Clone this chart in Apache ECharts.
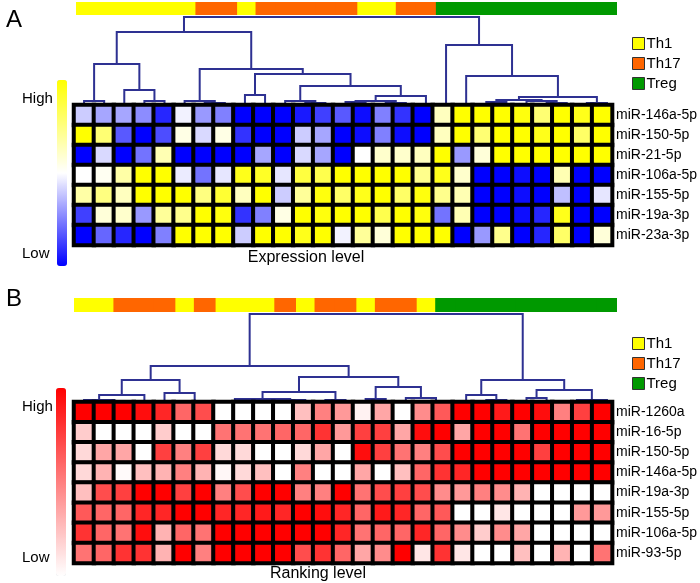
<!DOCTYPE html>
<html>
<head>
<meta charset="utf-8">
<script src="https://cdn.jsdelivr.net/npm/echarts@6/dist/echarts.min.js"></script>
<style>
html, body { margin: 0; padding: 0; background: #fff; }
#chart { width: 700px; height: 583px; }
</style>
</head>
<body>
<div id="chart"></div>
<script>
var cols = [];
for (var i = 0; i < 27; i++) cols.push('S' + (i + 1));

var rowsA = ['miR-146a-5p', 'miR-150-5p', 'miR-21-5p', 'miR-106a-5p', 'miR-155-5p', 'miR-19a-3p', 'miR-23a-3p'];
var rowsB = ['miR-1260a', 'miR-16-5p', 'miR-150-5p', 'miR-146a-5p', 'miR-19a-3p', 'miR-155-5p', 'miR-106a-5p', 'miR-93-5p'];

var groupNames = ['Th1', 'Th17', 'Treg'];
var groupColors = ['#ffff00', '#ff6600', '#009900'];

// cell type of each column (0 Th1, 1 Th17, 2 Treg)
var groupsA = [0,0,0,0,0,0, 1,1, 0, 1,1,1,1,1, 0,0, 1,1, 2,2,2,2,2,2,2,2,2];
var groupsB = [0,0, 1,1,1, 0, 1, 0,0,0, 1, 0, 1,1, 0, 1,1, 0, 2,2,2,2,2,2,2,2,2];

// expression level, -1 low .. 1 high
var exprA = [
  [-0.2,-0.35,-0.35,-0.45,-0.85,-0.05,-0.4,-0.5,-1,-1,-1,-0.9,-0.75,-0.65,-0.95,-0.5,-0.8,-1,0.25,1,1,1,0.95,0.55,1,0.9,1],
  [1,0.55,-0.65,-1,-0.7,0.1,-0.15,0.1,-0.8,-1,-1,-0.2,-0.35,-1,-0.95,-0.5,-0.95,-1,0.25,1,0.55,1,1,0.9,1,0.6,1],
  [-1,-0.15,-1,-0.55,0.3,-1,-1,-1,-1,-0.35,-1,-0.15,-0.35,-1,0,0.2,0.2,0.25,1,-0.4,0.15,1,1,1,1,1,1],
  [0,0.05,0.35,1,1,-0.08,-0.55,-0.1,0.9,0.85,-0.1,0.75,0.7,1,1,1,1,0.45,0.9,0.2,-1,-1,-0.95,-1,0.3,-1,-1],
  [0.35,0.5,0.25,1,1,1,0.5,0.8,0.25,1,-0.2,0.4,0.95,0.6,0.9,1,0.6,0.95,0.45,0.3,-1,-1,-0.95,-1,-0.25,-1,-0.1],
  [-0.75,0.15,0.2,-0.4,0.4,0.45,1,0.95,-0.8,-0.5,0.1,1,0.95,1,1,0.7,1,0.95,-0.55,0.3,-1,-1,-0.95,-0.85,0.9,-1,-1],
  [-1,-0.6,-0.85,-1,-0.5,1,1,1,-0.2,1,1,0.9,1,-0.05,0.4,0.15,1,1,1,-1,-0.4,0.45,-1,-0.85,0.6,-1,0.15]
];

// ranking level, 0 low .. 1 high
var rankB = [
  [1,1,1,0.95,0.85,0.6,0.7,0,0,0,0,0.25,0.5,0.4,0.05,0.35,0,0.45,0.65,1,1,0.9,1,0.95,0.5,0.75,1],
  [0.2,0,0,0,0.2,0,0,0.55,0.55,0.55,0.6,0.6,0.8,0.4,0.75,0.75,0.35,0.95,1,0.35,1,1,0.55,1,1,1,1],
  [0.15,0.35,0.35,0,0.75,0.5,0.75,0.15,0.15,0,0,0.15,0.35,0,0.95,0.75,0.55,0.5,0.7,1,1,1,1,0.75,1,1,1],
  [0.15,0.3,0.02,0.25,0.3,0.5,0.3,0.03,0.15,0.25,0,0.5,0,0,0.35,0,0.25,0.6,0.8,0.85,1,1,1,1,1,1,1],
  [0.25,0.7,0.75,1,1,0.75,1,0.5,0.7,1,1,0.5,0.5,1,0.55,0.7,0.75,0.7,0.45,0.4,0.5,0.45,0.3,0,0,0,0],
  [0.65,0.6,0.6,0.85,0.85,1,1,0.85,0.85,0.9,0.85,1,0.95,0.85,0.6,0.9,0.85,0.6,0.65,0,0,0.1,0,0,0,0.4,0.4],
  [0.8,0.6,0.55,0.95,0.3,0.6,0.55,1,1,1,1,1,1,0.85,0.55,0.6,0.6,0.85,0.6,0.45,0.2,0.45,0.35,0,0,0,0],
  [0.55,0.6,0.8,0.8,0.3,1,0.5,1,1,1,1,0.7,0.8,0.6,0.35,0.45,1,0.1,0.8,0.1,0,0,0.25,0,0.3,0,0.55]
];

// linkage: [left node, right node, height]; leaves are 0..26, merges numbered from 27
var linkA = [
  [0,1,4],[3,4,4],[2,28,15],[27,29,41],
  [6,7,2],[5,31,4],[8,9,10],[11,12,2],[10,34,4],
  [13,14,3],[15,16,2],[36,37,4],[38,17,9],[35,39,19],[33,40,31],[32,41,36],[30,42,73],
  [20,21,3],[23,24,2],[22,45,4],[44,46,5],[25,26,2],[47,48,8],[19,49,29],[18,50,60],
  [43,51,88]
];
var linkB = [
  [1,2,1],[0,27,2],[28,3,7],[5,6,1],[4,30,9],[29,31,22],
  [7,8,1],[9,10,1],[34,11,2],[33,35,3],[12,13,2],[36,37,10],
  [14,15,3],[17,18,1],[16,40,4],[39,41,15],[38,42,25],[32,43,36],
  [20,21,2],[19,45,7],[22,23,4],[24,25,1],[48,26,2],[47,49,12],[46,50,22],
  [44,51,88]
];

function dendroLines(link, n) {
  var xs = [], hs = [];
  for (var i = 0; i < n; i++) { xs.push(i); hs.push(0); }
  var out = [];
  link.forEach(function (m) {
    var a = m[0], b = m[1], h = m[2];
    out.push({ coords: [[xs[a], hs[a]], [xs[a], h], [xs[b], h], [xs[b], hs[b]]] });
    xs.push((xs[a] + xs[b]) / 2);
    hs.push(h);
  });
  return out;
}

function heatData(rows) {
  var d = [];
  rows.forEach(function (r, y) {
    r.forEach(function (v, x) { d.push([x, y, v]); });
  });
  return d;
}

// slightly wider than the band so neighbouring blocks leave no seam
function groupBars(groups, xi) {
  return groupNames.map(function (g, k) {
    return {
      name: g, type: 'bar', xAxisIndex: xi, yAxisIndex: xi,
      barWidth: '108%', barGap: '-100%', silent: true,
      itemStyle: { color: groupColors[k] },
      data: groups.map(function (v) { return v === k ? 1 : '-'; })
    };
  });
}

var font = 'Arial, "Liberation Sans", sans-serif';
var L = 74, W = 543;

function hidden(type, extra) {
  var ax = { type: type, show: false };
  for (var k in extra) ax[k] = extra[k];
  return ax;
}

var chart = echarts.init(document.getElementById('chart'));

var dendroStyle = { color: '#2e3192', width: 2, opacity: 1 };

function rowAxis(gi, rows) {
  return {
    type: 'category', gridIndex: gi, data: rows, inverse: true, position: 'right',
    axisLine: { show: false }, axisTick: { show: false },
    axisLabel: { fontSize: 14, color: '#000', margin: 4, fontFamily: font }
  };
}

function groupLegend(top) {
  return {
    left: 627, top: top, orient: 'vertical', itemWidth: 12, itemHeight: 12, itemGap: 5,
    icon: 'rect', data: groupNames, selectedMode: false,
    itemStyle: { borderColor: '#333', borderWidth: 1 },
    textStyle: { fontSize: 15, color: '#000', padding: [0, 0, 0, -3] }
  };
}

var option = {
  animation: false,
  textStyle: { fontFamily: font },
  grid: [
    { left: L + 2, top: 2, width: W - 2, height: 13 },
    { left: L, top: 17, width: W, height: 88 },
    { left: L, top: 105, width: W, height: 140 },
    { left: L, top: 298, width: W, height: 14 },
    { left: L, top: 314, width: W, height: 88 },
    { left: L, top: 402, width: W, height: 161 }
  ],
  xAxis: [
    hidden('category', { gridIndex: 0, data: cols }),
    hidden('value', { gridIndex: 1, min: -0.5, max: 26.5 }),
    hidden('category', { gridIndex: 2, data: cols }),
    hidden('category', { gridIndex: 3, data: cols }),
    hidden('value', { gridIndex: 4, min: -0.5, max: 26.5 }),
    hidden('category', { gridIndex: 5, data: cols })
  ],
  yAxis: [
    hidden('value', { gridIndex: 0, min: 0, max: 1 }),
    hidden('value', { gridIndex: 1, min: 0, max: 88 }),
    rowAxis(2, rowsA),
    hidden('value', { gridIndex: 3, min: 0, max: 1 }),
    hidden('value', { gridIndex: 4, min: 0, max: 88 }),
    rowAxis(5, rowsB)
  ],
  visualMap: [
    {
      type: 'continuous', min: -1, max: 1, seriesIndex: 4, calculable: false,
      left: 57, top: 80, itemWidth: 10, itemHeight: 186, padding: 0,
      inRange: { color: ['#0000ff', '#ffffff', '#ffff00'] }
    },
    {
      type: 'continuous', min: 0, max: 1, seriesIndex: 9, calculable: false,
      left: 56, top: 388, itemWidth: 10, itemHeight: 188, padding: 0,
      inRange: { color: ['#ffffff', '#ff0000'] }
    }
  ],
  legend: [groupLegend(31), groupLegend(331)],
  graphic: [
    { type: 'text', left: 6, top: 8, style: { text: 'A', font: '24px ' + font, fill: '#000' } },
    { type: 'text', left: 6, top: 287, style: { text: 'B', font: '24px ' + font, fill: '#000' } },
    { type: 'text', left: 22, top: 91, style: { text: 'High', font: '15px ' + font, fill: '#000' } },
    { type: 'text', left: 22, top: 246, style: { text: 'Low', font: '15px ' + font, fill: '#000' } },
    { type: 'text', left: 22, top: 399, style: { text: 'High', font: '15px ' + font, fill: '#000' } },
    { type: 'text', left: 22, top: 550, style: { text: 'Low', font: '15px ' + font, fill: '#000' } },
    { type: 'text', x: 306, y: 250, style: { text: 'Expression level', font: '16px ' + font, fill: '#000', align: 'center' } },
    { type: 'text', x: 318, y: 566, style: { text: 'Ranking level', font: '16px ' + font, fill: '#000', align: 'center' } }
  ],
  series: []
};

option.series = option.series.concat(groupBars(groupsA, 0));
option.series.push({
  type: 'lines', coordinateSystem: 'cartesian2d', xAxisIndex: 1, yAxisIndex: 1,
  polyline: true, silent: true, lineStyle: dendroStyle, data: dendroLines(linkA, 27)
});
option.series.push({
  type: 'heatmap', xAxisIndex: 2, yAxisIndex: 2, data: heatData(exprA),
  itemStyle: { borderColor: '#000', borderWidth: 4 }
});
option.series = option.series.concat(groupBars(groupsB, 3));
option.series.push({
  type: 'lines', coordinateSystem: 'cartesian2d', xAxisIndex: 4, yAxisIndex: 4,
  polyline: true, silent: true, lineStyle: dendroStyle, data: dendroLines(linkB, 27)
});
option.series.push({
  type: 'heatmap', xAxisIndex: 5, yAxisIndex: 5, data: heatData(rankB),
  itemStyle: { borderColor: '#000', borderWidth: 4 }
});

chart.setOption(option);
</script>
</body>
</html>
